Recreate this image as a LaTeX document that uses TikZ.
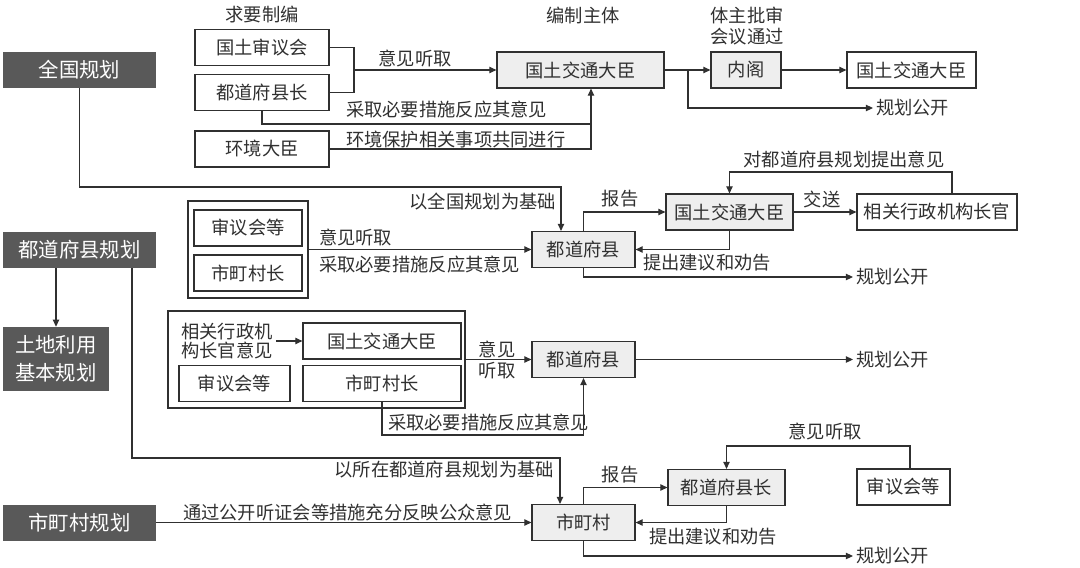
\documentclass[tikz,border=0pt]{standalone}
\usepackage{fontspec}
\newfontfamily\cjk{Noto Sans CJK SC}
\usetikzlibrary{arrows.meta}
\definecolor{dark}{HTML}{595959}
\definecolor{pale}{HTML}{EEEEEE}
\definecolor{ink}{HTML}{303030}

\begin{document}
\begin{tikzpicture}[x=0.025cm,y=-0.025cm,
  every node/.style={font=\cjk\fontsize{13}{16}\selectfont,text=ink},
  box/.style={draw=ink,line width=0.8pt,fill=white,inner sep=0pt,minimum height=0.9cm},
  gbox/.style={box,fill=pale},
  dbox/.style={fill=dark,text=white,inner sep=0pt,minimum width=3.825cm,minimum height=0.9cm,font=\cjk\fontsize{14.5}{20}\selectfont},
  grp/.style={draw=ink,line width=0.8pt,inner sep=0pt,minimum height=2.425cm},
  lbl/.style={inner sep=2pt},
  line/.style={draw=ink,line width=0.8pt},
  >={Triangle[length=5pt,width=4.5pt]}]
  \useasboundingbox (0,0) rectangle (1080,567);

  \node (natl)[dbox] at (79.5,70) {全国规划};
  \node (pref)[dbox] at (79.5,250) {都道府县规划};
  \node (land)[dbox,minimum width=2.65cm,minimum height=1.6cm,align=left] at (56,359) {土地利用\\基本规划};
  \node (city)[dbox] at (79.5,522.5) {市町村规划};

  \node (cnc)[box,minimum width=3.35cm] at (262,47.5) {国土审议会};
  \node (gov)[box,minimum width=3.35cm] at (262,92.5) {都道府县长};
  \node (env)[box,minimum width=3.35cm] at (262,149) {环境大臣};
  \node (minA)[gbox,minimum width=4.175cm] at (580.5,70) {国土交通大臣};
  \node (cab)[gbox,minimum width=1.75cm] at (746,70) {内阁};
  \node (minB)[box,minimum width=3.225cm] at (911.5,70) {国土交通大臣};

  \node (grpA)[grp,minimum width=3cm] at (248,249.5) {};
  \node (cncA)[box,minimum width=2.7cm] at (248,228) {审议会等};
  \node (mayA)[box,minimum width=2.7cm] at (248,273) {市町村长};
  \node (prefA)[gbox,minimum width=2.575cm] at (583.5,249.5) {都道府县};
  \node (minC)[gbox,minimum width=3.175cm] at (729.5,212) {国土交通大臣};
  \node (agcy)[box,minimum width=4cm] at (937,212) {相关行政机构长官};

  \node (grpB)[grp,minimum width=7.425cm] at (316.5,359.5) {};
  \node (minD)[box,minimum width=3.95cm] at (382,341) {国土交通大臣};
  \node (cncB)[box,minimum width=2.775cm] at (234.5,383.5) {审议会等};
  \node (mayB)[box,minimum width=3.95cm] at (382,383.5) {市町村长};
  \node (advc)[lbl,align=left,font=\cjk\fontsize{13}{14}\selectfont] at (227,341) {相关行政机\\构长官意见};
  \node (prefB)[gbox,minimum width=2.575cm] at (583.5,359.5) {都道府县};

  \node (govB)[gbox,minimum width=2.925cm] at (726.5,487.5) {都道府县长};
  \node (cncC)[box,minimum width=2.325cm] at (903.5,487) {审议会等};
  \node (town)[gbox,minimum width=2.575cm] at (583.5,522.5) {市町村};

  \node (hdA)[lbl] at (262,15) {求要制编};
  \node (hdB)[lbl] at (583,15) {编制主体};
  \node (hdC)[lbl,align=center,font=\cjk\fontsize{13}{15}\selectfont] at (747,26) {体主批审\\会议通过};
  \node (hearA)[lbl] at (415,58) {意见听取};
  \node (takeA)[lbl,anchor=west] at (343,110) {采取必要措施反应其意见};
  \node (envA)[lbl,anchor=west] at (343,140) {环境保护相关事项共同进行};
  \node (pubA)[lbl,anchor=west] at (873,108) {规划公开};

  \node (baseA)[lbl,anchor=east] at (559,202) {以全国规划为基础};
  \node (hearB)[lbl,anchor=west] at (316,237) {意见听取};
  \node (takeB)[lbl,anchor=west] at (316,265) {采取必要措施反应其意见};
  \node (repA)[lbl] at (620,199) {报告};
  \node (sendA)[lbl] at (822,199) {交送};
  \node (optA)[lbl] at (844,160) {对都道府县规划提出意见};
  \node (advA)[lbl,anchor=west] at (640,263) {提出建议和劝告};
  \node (pubB)[lbl,anchor=west] at (853,277) {规划公开};

  \node (hearC)[lbl,align=center,font=\cjk\fontsize{13}{15}\selectfont] at (497,360) {意见\\听取};
  \node (takeC)[lbl,anchor=west] at (385,423) {采取必要措施反应其意见};
  \node (pubC)[lbl,anchor=west] at (853,359.5) {规划公开};

  \node (baseB)[lbl,anchor=east] at (557,470) {以所在都道府县规划为基础};
  \node (hearD)[lbl,anchor=west] at (180,512) {通过公开听证会等措施充分反映公众意见};
  \node (hearE)[lbl] at (825,431) {意见听取};
  \node (repB)[lbl] at (620,475) {报告};
  \node (advB)[lbl,anchor=west] at (646,537) {提出建议和劝告};
  \node (pubD)[lbl,anchor=west] at (853,556) {规划公开};

  \coordinate (jA) at (354,70);
  \coordinate (upA) at (591,124);
  \coordinate (brA) at (688,70);
  \draw[line] (cnc.east) -| (jA) |- (gov.east);
  \draw[line,->] (jA) -- (minA.west);
  \draw[line,->] (gov.south) |- (upA) -- (upA |- minA.south);
  \draw[line] (env.east) -| (upA);
  \draw[line,->] (minA) -- (cab);
  \draw[line,->] (brA) |- (pubA.west);
  \draw[line,->] (cab) -- (minB);

  \coordinate (bA) at (561,187);
  \coordinate (tA) at (952,172);
  \draw[line,->] (natl.south) |- (bA) -- (bA |- prefA.north);
  \draw[line,->] (grpA) -- (prefA);
  \draw[line,->] (prefA.north) |- (minC.west);
  \draw[line,->] (minC.south) |- (prefA.east);
  \draw[line,->] (minC) -- (agcy);
  \draw[line,->] (tA |- agcy.north) -- (tA) -| (minC.north);
  \draw[line,->] (prefA.south) |- (pubB.west);

  \coordinate (cB) at (132,458);
  \coordinate (bB) at (560,458);
  \coordinate (cC) at (583.5,435);
  \draw[line,->] (pref.south -| land.north) -- (land.north);
  \draw[line,->] (cB |- pref.south) -- (cB) -- (bB) -- (bB |- town.north);
  \draw[line,->] (advc.east) -- (minD.west);
  \draw[line,->] (grpB) -- (prefB);
  \draw[line,->] (mayB.south) |- (cC) -- (prefB.south);
  \draw[line,->] (prefB) -- (pubC.west);

  \coordinate (tB) at (910,446);
  \draw[line,->] (city) -- (town);
  \draw[line,->] (town.north) |- (govB.west);
  \draw[line,->] (govB.south) |- (town.east);
  \draw[line,->] (tB |- cncC.north) -- (tB) -| (govB.north);
  \draw[line,->] (town.south) |- (pubD.west);
\end{tikzpicture}
\end{document}
